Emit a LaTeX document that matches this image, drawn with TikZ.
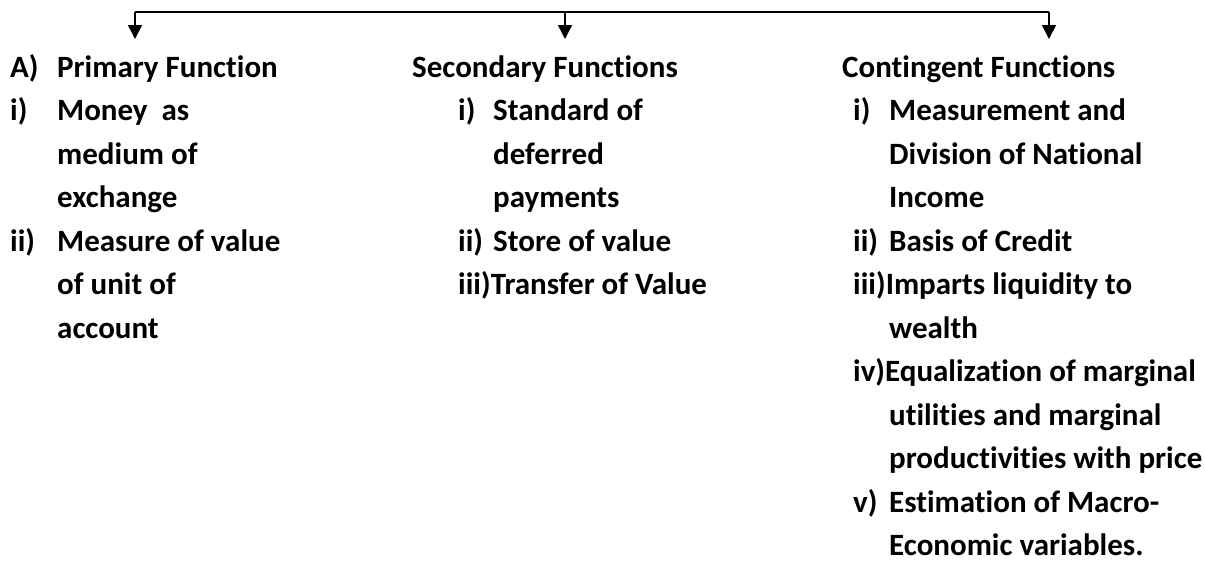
\documentclass[tikz,border=0pt]{standalone}
\usepackage{fontspec}
\setmainfont{Carlito}[Ligatures=NoCommon]
\usetikzlibrary{arrows.meta}
\begin{document}
\begin{tikzpicture}[x=1pt,y=-1pt,
  txt/.style={anchor=base west,inner sep=0pt,font=\fontsize{31}{33}\selectfont\bfseries},
  conn/.style={line width=1.5pt},
  darrow/.style={line width=1.5pt,-{Triangle[width=14pt,length=14pt]}}]
\useasboundingbox (0,0) rectangle (1205,563);
% connectors
\coordinate (t1) at (135,12);
\coordinate (t2) at (565,12);
\coordinate (t3) at (1049,12);
\coordinate (h1) at (135,39);
\coordinate (h2) at (565,39);
\coordinate (h3) at (1049,39);
\draw[conn] (h1 |- t1) -- (t3);
\draw[darrow] (t1) -- (h1);
\draw[darrow] (t2) -- (h2);
\draw[darrow] (t3) -- (h3);
% column 1
\node[txt] (p0l) at (10,77) {A)};
\node[txt] (p0) at (57,77) {Primary Function};
\node[txt] (p1l) at (10,120.5) {i)};
\node[txt] (p1) at (57,120.5) {Money\ \ as};
\node[txt] (p2) at (57,164) {medium of};
\node[txt] (p3) at (57,207.5) {exchange};
\node[txt] (p4l) at (10,251) {ii)};
\node[txt] (p4) at (57,251) {Measure of value};
\node[txt] (p5) at (57,294.5) {of unit of};
\node[txt] (p6) at (57,338) {account};
% column 2
\node[txt] (s0) at (412,77) {Secondary Functions};
\node[txt] (s1l) at (458,120.5) {i)};
\node[txt] (s1) at (493,120.5) {Standard of};
\node[txt] (s2) at (493,164) {deferred};
\node[txt] (s3) at (493,207.5) {payments};
\node[txt] (s4l) at (458,251) {ii)};
\node[txt] (s4) at (493,251) {Store of value};
\node[txt] (s5) at (458,294.5) {iii)Transfer of Value};
% column 3
\node[txt] (c0) at (842,77) {Contingent Functions};
\node[txt] (c1l) at (853,120.5) {i)};
\node[txt] (c1) at (889,120.5) {Measurement and};
\node[txt] (c2) at (889,164) {Division of National};
\node[txt] (c3) at (889,207.5) {Income};
\node[txt] (c4l) at (853,251) {ii)};
\node[txt] (c4) at (889,251) {Basis of Credit};
\node[txt] (c5) at (853,294.5) {iii)Imparts liquidity to};
\node[txt] (c6) at (889,338) {wealth};
\node[txt] (c7) at (853,381.5) {iv)Equalization of marginal};
\node[txt] (c8) at (889,425) {utilities and marginal};
\node[txt] (c9) at (889,468.5) {productivities with price};
\node[txt] (c10l) at (853,512) {v)};
\node[txt] (c10) at (889,512) {Estimation of Macro-};
\node[txt] (c11) at (889,555.5) {Economic variables.};
\end{tikzpicture}
\end{document}
